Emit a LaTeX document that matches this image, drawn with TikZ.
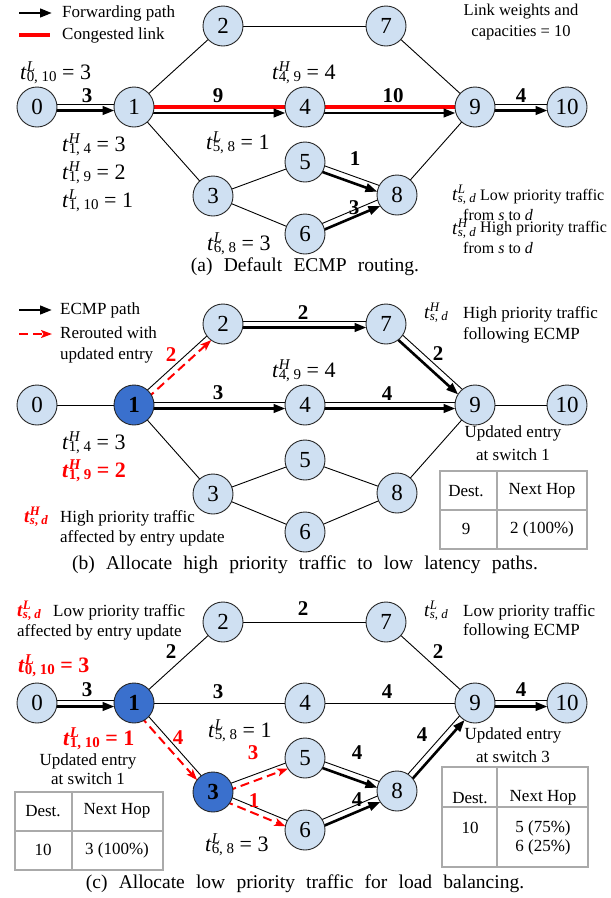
\documentclass[tikz,border=0pt]{standalone}
\usepackage{fontspec}
\setmainfont{Liberation Serif}
\newfontfamily\capfont{Liberation Serif}[WordSpace=2.3]
\usetikzlibrary{calc,arrows.meta}
\pgfdeclarelayer{bg}
\pgfsetlayers{bg,main}
\definecolor{nodefill}{RGB}{207,224,242}
\definecolor{darkfill}{RGB}{58,112,205}
\definecolor{tgray}{RGB}{170,170,170}
\definecolor{cred}{RGB}{255,0,0}
\makeatletter
\newcommand{\scr}{\fontsize{\fpeval{0.68*\f@size}}{0}\selectfont}
\makeatother
\newcommand{\tv}[2]{\textit{t}\rlap{\raisebox{0.36em}{\scr\textit{#1}}}\raisebox{-0.12em}{\scr #2}}
\tikzset{
 nd/.style={circle,draw=black!85,line width=0.9pt,fill=nodefill,minimum size=40pt,inner sep=0pt,font=\fontsize{23}{23}\selectfont},
 ndark/.style={nd,fill=darkfill,font=\fontsize{23}{23}\selectfont\bfseries},
 link/.style={line width=0.9pt,black},
 flowarr/.style={line width=2.6pt,-{Triangle[length=12pt,width=8.5pt]},shorten >=19.5pt},
 redarr/.style={line width=2pt,cred,dash pattern=on 9pt off 5pt,-{Stealth[length=11pt,width=8pt,inset=2.5pt]},shorten >=19.5pt},
 cong/.style={line width=3.3pt,cred},
 elab/.style={inner sep=0pt,font=\fontsize{21}{21}\selectfont\bfseries},
 rlab/.style={elab,text=cred},
 mlab/.style={inner sep=0pt,anchor=base west,font=\fontsize{22}{22}\selectfont},
 rmlab/.style={mlab,text=cred,font=\fontsize{22}{22}\selectfont\bfseries},
 slab/.style={inner sep=0pt,anchor=base west,font=\fontsize{19}{19}\selectfont},
 rslab/.style={slab,text=cred,font=\fontsize{19}{19}\selectfont\bfseries},
 txt/.style={inner sep=0pt,anchor=west,font=\fontsize{17}{17}\selectfont},
 stxt/.style={inner sep=0pt,anchor=west,font=\fontsize{16}{16}\selectfont},
 ctxt/.style={inner sep=0pt,font=\fontsize{17}{17}\selectfont},
 capt/.style={inner sep=0pt,font=\capfont\fontsize{19.5}{20}\selectfont},
 tbl/.style={draw=tgray,line width=1.3pt}
}
\newcommand{\lnk}[2]{\begin{pgfonlayer}{bg}\draw[link] (#1.center) -- (#2.center);\end{pgfonlayer}}
\newcommand{\flow}[2]{\begin{pgfonlayer}{bg}%
 \draw[link] ($(#1.center)!3pt!90:(#2.center)$) -- ($(#2.center)!3pt!-90:(#1.center)$);
 \draw[flowarr] ($(#1.center)!3.5pt!-90:(#2.center)$) -- ($(#2.center)!3.5pt!90:(#1.center)$);
 \end{pgfonlayer}}
\newcommand{\cflow}[2]{\begin{pgfonlayer}{bg}%
 \draw[cong] (#1.center) -- (#2.center);
 \draw[flowarr] ($(#1.center)!6pt!-90:(#2.center)$) -- ($(#2.center)!6pt!90:(#1.center)$);
 \end{pgfonlayer}}
\newcommand{\rer}[2]{\begin{pgfonlayer}{bg}%
 \draw[link] ($(#1.center)!2pt!90:(#2.center)$) -- ($(#2.center)!2pt!-90:(#1.center)$);
 \draw[redarr] ($(#1.center)!4pt!-90:(#2.center)$) -- ($(#2.center)!4pt!90:(#1.center)$);
 \end{pgfonlayer}}
\begin{document}
\begin{tikzpicture}[x=1pt,y=-1pt]
\useasboundingbox (0,0) rectangle (611,898);
% ---------- nodes ----------
\foreach \p/\dy in {a/0,b/298,c/596}{
 \node[nd] (\p0) at (37,{107+\dy}) {0};
 \node[nd] (\p2) at (223,{26+\dy}) {2};
 \node[nd] (\p7) at (386,{26+\dy}) {7};
 \node[nd] (\p4) at (305,{107+\dy}) {4};
 \node[nd] (\p9) at (475,{107+\dy}) {9};
 \node[nd] (\p10) at (567,{107+\dy}) {10};
 \node[nd] (\p5) at (305,{162+\dy}) {5};
 \node[nd] (\p6) at (305,{234+\dy}) {6};
 \node[nd] (\p8) at (397,{195+\dy}) {8};
}
\node[nd] (a1) at (134,107) {1};
\node[ndark] (b1) at (134,405) {1};
\node[ndark] (c1) at (134,703) {1};
\node[nd] (a3) at (213,196) {3};
\node[nd] (b3) at (213,494) {3};
\node[ndark] (c3) at (213,792) {3};

% ---------- panel (a) ----------
\coordinate (la1) at (19,13); \coordinate (la2) at (52,13);
\draw[flowarr,shorten >=0pt] (la1) -- (la2);
\node[txt] (lta) at (62,13) {Forwarding path};
\coordinate (lb1) at (19,35); \coordinate (lb2) at (50,35);
\draw[cong] (lb1) -- (lb2);
\node[txt] (ltb) at (62,35) {Congested link};
\node[ctxt,font=\fontsize{16.5}{16.5}\selectfont] (lw1) at (521,12) {Link weights and};
\node[ctxt,font=\fontsize{16.5}{16.5}\selectfont] (lw2) at (521,33) {capacities = 10};

\flow{a0}{a1} \cflow{a1}{a4} \cflow{a4}{a9} \flow{a9}{a10}
\lnk{a1}{a2} \lnk{a2}{a7} \lnk{a7}{a9} \lnk{a1}{a3} \lnk{a3}{a5} \lnk{a3}{a6} \lnk{a8}{a9}
\flow{a5}{a8} \flow{a6}{a8}
\node[elab] (ea1) at (87,96) {3};
\node[elab] (ea2) at (218,96) {9};
\node[elab] (ea3) at (393,96) {10};
\node[elab] (ea4) at (521,96) {4};
\node[elab] (ea5) at (355,159) {1};
\node[elab] (ea6) at (354,208) {3};

\node[mlab] (ma1) at (20,79) {\tv{L}{0, 10} = 3};
\node[mlab] (ma2) at (272,79) {\tv{H}{4, 9} = 4};
\node[mlab] (ma3) at (62,151) {\tv{H}{1, 4} = 3};
\node[mlab] (ma4) at (62,179) {\tv{H}{1, 9} = 2};
\node[mlab] (ma5) at (62,207) {\tv{L}{1, 10} = 1};
\node[mlab] (ma6) at (206,149) {\tv{L}{5, 8} = 1};
\node[mlab] (ma7) at (207,250) {\tv{L}{6, 8} = 3};
\node[slab] (ka1) at (452,200) {\tv{L}{\textit{s}, \textit{d}}};
\node[stxt] (ka2) at (480,197) {Low priority traffic};
\node[stxt] (ka3) at (463,215) {from \textit{s} to \textit{d}};
\node[slab] (ka4) at (452,234) {\tv{H}{\textit{s}, \textit{d}}};
\node[stxt] (ka5) at (480,229) {High priority traffic};
\node[stxt] (ka6) at (463,247.5) {from \textit{s} to \textit{d}};
\node[capt] (capa) at (305,267) {(a) Default ECMP routing.};

% ---------- panel (b) ----------
\coordinate (lc1) at (19,310); \coordinate (lc2) at (52,310);
\draw[flowarr,shorten >=0pt] (lc1) -- (lc2);
\node[txt] (ltc) at (60,310) {ECMP path};
\coordinate (ld1) at (19,334); \coordinate (ld2) at (52,334);
\draw[redarr,shorten >=0pt] (ld1) -- (ld2);
\node[txt] (ltd) at (60,333) {Rerouted with};
\node[txt] (lte) at (60,355) {updated entry};

\lnk{b0}{b1} \rer{b1}{b2} \flow{b2}{b7} \flow{b7}{b9} \flow{b1}{b4} \flow{b4}{b9}
\lnk{b9}{b10} \lnk{b1}{b3} \lnk{b3}{b5} \lnk{b3}{b6} \lnk{b5}{b8} \lnk{b6}{b8} \lnk{b8}{b9}
\node[rlab] (eb1) at (171,355) {2};
\node[elab] (eb2) at (303,313) {2};
\node[elab] (eb3) at (438,354) {2};
\node[elab] (eb4) at (218,393) {3};
\node[elab] (eb5) at (387,394) {4};

\node[mlab] (mb1) at (272,377) {\tv{H}{4, 9} = 4};
\node[mlab] (mb2) at (62,449) {\tv{H}{1, 4} = 3};
\node[rmlab] (mb3) at (62,477) {\tv{H}{1, 9} = 2};
\node[rslab] (kb1) at (24,522) {\tv{H}{\textit{s}, \textit{d}}};
\node[txt] (kb2) at (60,518) {High priority traffic};
\node[txt] (kb3) at (60,538) {affected by entry update};
\node[slab] (kb4) at (424,318) {\tv{H}{\textit{s}, \textit{d}}};
\node[txt] (kb5) at (463,314) {High priority traffic};
\node[txt] (kb6) at (463,335) {following ECMP};
\node[ctxt] (ub1) at (513,433) {Updated entry};
\node[ctxt] (ub2) at (513,455) {at switch 1};
\draw[tbl] (440,471) rectangle (587,549);
\draw[tbl] (497,471) -- (497,549);
\draw[tbl] (440,510) -- (587,510);
\node[ctxt] (tb1) at (466,491) {Dest.};
\node[ctxt] (tb2) at (542,491) {Next Hop};
\node[ctxt] (tb3) at (466,529) {9};
\node[ctxt] (tb4) at (542,529) {2 (100\%)};
\node[capt] (capb) at (305,565) {(b) Allocate high priority traffic to low latency paths.};

% ---------- panel (c) ----------
\flow{c0}{c1} \lnk{c1}{c2} \lnk{c2}{c7} \lnk{c7}{c9} \lnk{c1}{c4} \lnk{c4}{c9} \flow{c9}{c10}
\rer{c1}{c3} \rer{c3}{c5} \rer{c3}{c6}
\flow{c5}{c8} \flow{c6}{c8} \flow{c8}{c9}
\node[elab] (ec1) at (87,690) {3};
\node[elab] (ec2) at (171,652) {2};
\node[elab] (ec3) at (303,609) {2};
\node[elab] (ec4) at (438,652) {2};
\node[elab] (ec5) at (218,692) {3};
\node[elab] (ec6) at (387,692) {4};
\node[elab] (ec7) at (521,690) {4};
\node[rlab] (ec8) at (178,738) {4};
\node[rlab] (ec9) at (253,753) {3};
\node[rlab] (ec10) at (254,801) {1};
\node[elab] (ec11) at (357,753) {4};
\node[elab] (ec12) at (357,800) {4};
\node[elab] (ec13) at (422,735) {4};

\node[rslab] (kc1) at (17,616) {\tv{L}{\textit{s}, \textit{d}}};
\node[txt] (kc2) at (53,612) {Low priority traffic};
\node[txt] (kc3) at (17,632) {affected by entry update};
\node[slab] (kc4) at (424,616) {\tv{L}{\textit{s}, \textit{d}}};
\node[txt] (kc5) at (463,612) {Low priority traffic};
\node[txt] (kc6) at (463,631) {following ECMP};
\node[rmlab] (mc1) at (18,672) {\tv{L}{0, 10} = 3};
\node[rmlab] (mc2) at (63,745) {\tv{L}{1, 10} = 1};
\node[mlab] (mc3) at (208,737) {\tv{L}{5, 8} = 1};
\node[mlab] (mc4) at (205,851) {\tv{L}{6, 8} = 3};

\node[ctxt] (uc1) at (88,761) {Updated entry};
\node[ctxt] (uc2) at (88,779) {at switch 1};
\draw[tbl] (15,792) rectangle (163,870);
\draw[tbl] (72,792) -- (72,870);
\draw[tbl] (15,831) -- (163,831);
\node[ctxt] (tc1) at (43,811) {Dest.};
\node[ctxt] (tc2) at (117,811) {Next Hop};
\node[ctxt] (tc3) at (43,850) {10};
\node[ctxt] (tc4) at (117,850) {3 (100\%)};

\node[ctxt] (ud1) at (513,735) {Updated entry};
\node[ctxt] (ud2) at (513,757) {at switch 3};
\draw[tbl] (442,767) rectangle (588,867);
\draw[tbl] (497,767) -- (497,867);
\draw[tbl] (442,807) -- (588,807);
\node[ctxt] (td1) at (470,798) {Dest.};
\node[ctxt] (td2) at (543,798) {Next Hop};
\node[ctxt] (td3) at (470,828) {10};
\node[ctxt] (td4) at (543,828) {5 (75\%)};
\node[ctxt] (td5) at (543,847) {6 (25\%)};
\node[capt] (capc) at (305,884) {(c) Allocate low priority traffic for load balancing.};
\end{tikzpicture}
\end{document}
